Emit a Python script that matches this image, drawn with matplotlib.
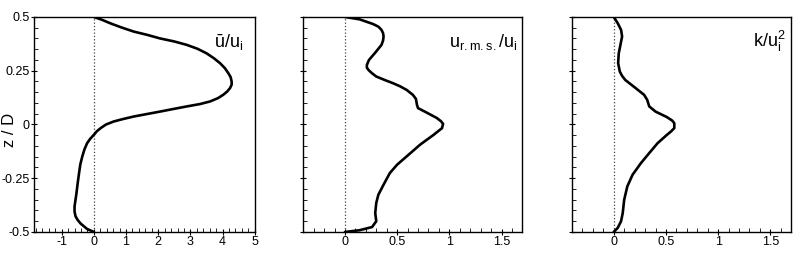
import matplotlib
matplotlib.use("Agg")
import matplotlib.pyplot as plt
from matplotlib.ticker import MultipleLocator

plt.rcParams['font.family'] = ['Liberation Sans', 'DejaVu Sans']
plt.rcParams['mathtext.fontset'] = 'custom'
plt.rcParams['mathtext.rm'] = 'Liberation Sans'

# mean streamwise velocity
z_u = [0.5, 0.487, 0.47, 0.45, 0.432, 0.417, 0.40, 0.386, 0.37, 0.352,
       0.331, 0.308, 0.285, 0.262, 0.238, 0.22, 0.2, 0.185, 0.169, 0.153,
       0.138, 0.122, 0.107, 0.095, 0.084, 0.072, 0.06, 0.048, 0.037, 0.025,
       0.014, 0.0, -0.017, -0.032, -0.048, -0.066, -0.087, -0.115, -0.149,
       -0.185, -0.226, -0.27, -0.319, -0.35, -0.381, -0.405, -0.427, -0.445,
       -0.461, -0.486, -0.5]
u_mean = [0.0, 0.25, 0.52, 0.88, 1.24, 1.65, 2.06, 2.5, 2.89, 3.22,
          3.5, 3.73, 3.92, 4.07, 4.18, 4.25, 4.28, 4.28, 4.23, 4.14,
          4.02, 3.85, 3.61, 3.3, 2.89, 2.47, 2.06, 1.63, 1.24, 0.9,
          0.62, 0.38, 0.21, 0.09, 0.0, -0.11, -0.21, -0.29, -0.36,
          -0.42, -0.46, -0.50, -0.54, -0.57, -0.60, -0.60, -0.57, -0.50,
          -0.41, -0.21, 0.0]

# r.m.s. velocity
z_rms = [0.5, 0.489, 0.467, 0.455, 0.44, 0.425, 0.409, 0.39, 0.37, 0.352,
         0.334, 0.317, 0.30, 0.277, 0.264, 0.251, 0.238, 0.223, 0.207, 0.192,
         0.177, 0.161, 0.138, 0.119, 0.091, 0.076, 0.056, 0.03, 0.015, 0.003,
         -0.017, -0.048, -0.094, -0.149, -0.187, -0.226, -0.28, -0.327,
         -0.365, -0.412, -0.45, -0.477, -0.492, -0.5]
u_rms = [0.0, 0.14, 0.27, 0.32, 0.35, 0.365, 0.37, 0.365, 0.35, 0.32,
         0.29, 0.26, 0.23, 0.21, 0.21, 0.23, 0.26, 0.30, 0.38, 0.46,
         0.53, 0.59, 0.65, 0.68, 0.69, 0.70, 0.78, 0.88, 0.92, 0.94,
         0.93, 0.85, 0.72, 0.59, 0.50, 0.43, 0.37, 0.32,
         0.30, 0.29, 0.30, 0.26, 0.14, 0.0]

# turbulent kinetic energy
z_k = [0.5, 0.471, 0.44, 0.409, 0.37, 0.331, 0.285, 0.246, 0.226, 0.207,
       0.188, 0.169, 0.138, 0.115, 0.084, 0.06, 0.034, 0.018, 0.006, -0.017,
       -0.032, -0.048, -0.087, -0.133, -0.18, -0.234, -0.288, -0.35, -0.412,
       -0.45, -0.481, -0.5]
k_val = [0.0, 0.038, 0.07, 0.08, 0.064, 0.048, 0.042, 0.058, 0.08, 0.11,
         0.16, 0.21, 0.29, 0.32, 0.34, 0.40, 0.51, 0.56, 0.58, 0.58,
         0.55, 0.51, 0.42, 0.34, 0.26, 0.18, 0.13, 0.10, 0.086,
         0.07, 0.038, 0.0]

yticks = [-0.5, -0.25, 0, 0.25, 0.5]
ytick_labels = ['-0.5', '-0.25', '0', '0.25', '0.5']
xticks1 = [-1, 0, 1, 2, 3, 4, 5]
xticks2 = [0, 0.5, 1, 1.5]
xtick_labels2 = ['0', '0.5', '1', '1.5']

fig = plt.figure(figsize=(8, 2.63), dpi=100)
ax1 = fig.add_axes([0.0425, 0.118, 0.276, 0.8175])
ax2 = fig.add_axes([0.379, 0.118, 0.274, 0.8175])
ax3 = fig.add_axes([0.715, 0.118, 0.274, 0.8175])


def style_axis(ax, xlim, xticks, xlabels, xminor, show_y):
    ax.axvline(0, color='#444444', linestyle=':', linewidth=0.9, zorder=1)
    ax.set_xlim(*xlim)
    ax.set_ylim(-0.5, 0.5)
    ax.set_xticks(xticks)
    ax.set_xticklabels(xlabels)
    ax.xaxis.set_minor_locator(MultipleLocator(xminor))
    ax.set_yticks(yticks)
    ax.yaxis.set_minor_locator(MultipleLocator(0.05))
    if show_y:
        ax.set_yticklabels(ytick_labels)
    else:
        ax.set_yticklabels([])
    ax.tick_params(which='major', direction='inout', length=4, width=0.8,
                   labelsize=9, pad=1, top=False, right=False)
    ax.tick_params(which='minor', direction='in', length=3, width=0.6,
                   top=False, right=False)
    for s in ax.spines.values():
        s.set_linewidth(1.0)


style_axis(ax1, (-1.86, 5), xticks1, [str(v) for v in xticks1], 0.2, True)
style_axis(ax2, (-0.4, 1.7), xticks2, xtick_labels2, 0.1, False)
style_axis(ax3, (-0.4, 1.7), xticks2, xtick_labels2, 0.1, False)

for ax, xs, zs in [(ax1, u_mean, z_u), (ax2, u_rms, z_rms), (ax3, k_val, z_k)]:
    ax.plot(xs, zs, color='black', linewidth=1.9, zorder=3,
            solid_joinstyle='round', solid_capstyle='round')

# y label placed by hand, left of the tick labels
fig.text(10 / 800, 1 - 130 / 263, 'z / D', rotation=90, fontsize=12,
         ha='center', va='center')

ax1.text(0.946, 0.86, 'ū/u$_\\mathregular{i}$', transform=ax1.transAxes,
         ha='right', va='baseline', fontsize=13)
ax2.text(0.977, 0.86, 'u$_\\mathregular{r.m.s.}$/u$_\\mathregular{i}$',
         transform=ax2.transAxes, ha='right', va='baseline', fontsize=13)
ax3.text(0.973, 0.86, 'k/u$_\\mathregular{i}^\\mathregular{2}$',
         transform=ax3.transAxes, ha='right', va='baseline', fontsize=13)

fig.savefig('out.png', dpi=100)
